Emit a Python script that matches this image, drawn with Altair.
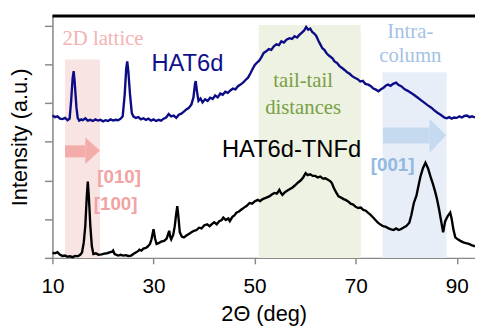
import altair as alt
import pandas as pd

# ---------------- data ----------------
hat_x = [10.0, 10.5, 11.0, 11.5, 12.0, 12.5, 13.0, 13.4, 13.7, 14.0, 14.2, 14.4, 14.75, 15.0, 15.3, 15.7,
         16.0, 16.5, 17.0, 17.5, 18.0, 18.5, 19.0, 19.5, 20.0, 20.5, 21.0, 21.5, 22.0, 22.5, 23.0, 23.5,
         23.9, 24.3, 24.6, 24.8, 25.0, 25.35, 25.7, 26.0, 26.5, 27.0, 27.5, 28.0, 28.5, 29.0, 29.5, 30.0,
         30.5, 31.0, 31.5, 32.0, 32.5, 33.0, 33.5, 34.0, 34.5, 35.0, 35.5, 36.0, 36.5, 37.0, 37.5, 37.9,
         38.2, 38.35, 38.6, 38.9, 39.3, 39.7, 40.2, 40.7, 41.2, 41.7, 42.2, 42.7, 43.2, 43.7, 44.2, 44.7,
         45.2, 45.7, 46.2, 46.7, 47.2, 47.7, 48.2, 48.7, 49.2, 49.7, 50.0, 50.4, 50.9, 51.3, 51.8, 52.3,
         52.8, 53.3, 53.8, 54.3, 54.8, 55.3, 55.8, 56.3, 56.9, 57.4, 57.9, 58.4, 58.8, 59.3, 59.8, 60.2,
         60.6, 61.0, 61.4, 61.8, 62.2, 62.6, 63.0, 63.4, 63.8, 64.2, 64.6, 65.0, 65.4, 65.8, 66.3, 66.8,
         67.3, 67.8, 68.3, 68.8, 69.3, 69.9, 70.4, 70.9, 71.4, 71.9, 72.5, 73.0, 73.5, 74.0, 74.5, 75.0,
         75.5, 76.0, 76.4, 76.9, 77.4, 78.0, 78.5, 79.0, 79.7, 80.3, 80.9, 81.5, 82.3, 82.9, 83.5, 84.2,
         84.9, 85.5, 86.1, 86.8, 87.5, 88.0, 88.5, 89.0, 89.4, 90.0, 90.5, 91.0, 91.5, 92.0, 92.5, 93.0, 93.6]
hat_y = [3.68, 3.64, 3.66, 3.60, 3.59, 3.62, 3.56, 3.60, 4.06, 4.65, 4.83, 4.55, 3.89, 3.62, 3.55, 3.58,
         3.56, 3.61, 3.55, 3.57, 3.54, 3.58, 3.55, 3.57, 3.53, 3.56, 3.54, 3.58, 3.55, 3.57, 3.56, 3.60,
         3.66, 4.23, 4.90, 5.08, 4.85, 4.23, 3.75, 3.66, 3.62, 3.64, 3.58, 3.61, 3.57, 3.60, 3.55, 3.58,
         3.54, 3.57, 3.55, 3.60, 3.63, 3.72, 3.66, 3.68, 3.62, 3.70, 3.73, 3.78, 3.84, 3.88, 3.97, 4.15,
         4.50, 4.57, 4.30, 4.06, 4.12, 4.02, 4.10, 4.06, 4.14, 4.11, 4.20, 4.15, 4.25, 4.22, 4.30, 4.27,
         4.33, 4.38, 4.36, 4.44, 4.48, 4.53, 4.60, 4.66, 4.78, 4.91, 4.98, 5.04, 5.10, 5.18, 5.30, 5.34,
         5.40, 5.38, 5.47, 5.52, 5.50, 5.60, 5.57, 5.64, 5.68, 5.66, 5.73, 5.70, 5.76, 5.82, 5.88, 5.97,
         5.90, 5.93, 5.84, 5.80, 5.74, 5.62, 5.52, 5.42, 5.38, 5.30, 5.24, 5.20, 5.16, 5.08, 5.04, 4.96,
         4.91, 4.86, 4.80, 4.76, 4.70, 4.65, 4.62, 4.56, 4.58, 4.50, 4.48, 4.44, 4.38, 4.35, 4.31, 4.36,
         4.40, 4.46, 4.48, 4.45, 4.50, 4.53, 4.47, 4.44, 4.36, 4.32, 4.27, 4.22, 4.14, 4.08, 4.02, 3.95,
         3.89, 3.82, 3.76, 3.70, 3.63, 3.61, 3.64, 3.60, 3.63, 3.62, 3.66, 3.63, 3.67, 3.68, 3.64, 3.66, 3.63]

tnf_x = [10.0, 10.5, 11.0, 11.5, 12.0, 12.5, 13.0, 13.5, 14.0, 14.5, 15.0, 15.5, 15.85, 16.2, 16.5, 16.8,
         17.0, 17.2, 17.5, 17.8, 18.1, 18.6, 19.1, 19.75, 20.3, 20.8, 21.3, 21.8, 22.0, 22.3, 23.0, 23.5,
         24.0, 24.5, 25.0, 25.6, 26.0, 26.5, 27.0, 27.2, 27.6, 28.0, 28.5, 28.9, 29.3, 29.6, 30.0, 30.3,
         30.6, 31.0, 31.5, 32.1, 32.6, 32.9, 33.1, 33.3, 33.5, 33.9, 34.2, 34.5, 34.7, 34.9, 35.2, 35.6,
         36.0, 36.5, 37.0, 37.5, 38.0, 38.5, 39.0, 39.5, 40.0, 40.6, 41.1, 41.6, 42.0, 42.5, 43.0, 43.5,
         43.8, 44.3, 44.8, 45.1, 45.6, 46.0, 46.4, 46.9, 47.4, 47.9, 48.4, 49.0, 49.5, 50.0, 50.6, 51.1,
         51.6, 52.2, 52.9, 53.4, 53.9, 54.4, 54.9, 55.2, 55.5, 56.0, 56.5, 57.0, 57.5, 58.1, 58.6, 59.1,
         59.6, 60.1, 60.5, 61.0, 61.5, 62.0, 62.5, 63.0, 63.5, 64.0, 64.5, 65.0, 65.3, 65.7, 66.1, 66.6,
         67.1, 67.6, 68.0, 68.5, 69.0, 69.5, 70.0, 70.5, 71.0, 71.5, 72.0, 72.4, 72.9, 73.4, 73.9, 74.4,
         74.9, 75.4, 76.0, 76.5, 77.0, 77.5, 78.0, 78.5, 78.9, 79.4, 80.0, 80.6, 81.0, 81.5, 82.0, 82.4,
         82.8, 83.3, 83.8, 84.3, 84.8, 85.3, 85.7, 86.1, 86.5, 86.9, 87.3, 87.7, 88.2, 88.7, 89.0, 89.3,
         89.7, 90.2, 90.7, 91.3, 91.8, 92.4, 92.9, 93.6]
tnf_y = [0.13, 0.12, 0.15, 0.08, 0.05, 0.06, 0.03, 0.04, 0.02, 0.05, 0.04, 0.08, 0.14, 0.40, 0.82, 1.60,
         1.97, 1.60, 0.82, 0.30, 0.10, 0.12, 0.08, 0.09, 0.11, 0.12, 0.14, 0.16, 0.19, 0.10, 0.06, 0.08,
         0.06, 0.07, 0.05, 0.06, 0.10, 0.14, 0.18, 0.21, 0.19, 0.24, 0.26, 0.30, 0.36, 0.48, 0.74, 0.50,
         0.36, 0.38, 0.42, 0.44, 0.50, 0.62, 0.70, 0.55, 0.48, 0.60, 0.82, 1.15, 1.34, 1.10, 0.66, 0.55,
         0.53, 0.58, 0.62, 0.66, 0.70, 0.72, 0.78, 0.76, 0.84, 0.87, 0.82, 0.88, 0.92, 0.87, 0.95, 0.98,
         1.04, 0.98, 1.02, 0.95, 1.06, 1.10, 1.17, 1.20, 1.25, 1.30, 1.34, 1.42, 1.40, 1.46, 1.50, 1.47,
         1.52, 1.55, 1.59, 1.64, 1.68, 1.66, 1.76, 1.68, 1.63, 1.70, 1.74, 1.78, 1.82, 1.89, 1.95, 2.00,
         2.08, 2.19, 2.14, 2.16, 2.12, 2.12, 2.08, 2.10, 2.05, 2.06, 2.02, 1.98, 1.93, 1.80, 1.70, 1.59,
         1.56, 1.52, 1.50, 1.46, 1.40, 1.38, 1.32, 1.29, 1.30, 1.24, 1.22, 1.17, 1.12, 1.05, 0.98, 0.91,
         0.86, 0.82, 0.80, 0.76, 0.74, 0.72, 0.76, 0.72, 0.74, 0.78, 0.82, 0.91, 1.10, 1.42, 1.60, 1.85,
         2.10, 2.32, 2.46, 2.32, 2.10, 1.90, 1.72, 1.51, 1.25, 0.95, 0.66, 0.95, 1.08, 1.17, 1.00, 0.75,
         0.53, 0.48, 0.44, 0.40, 0.38, 0.36, 0.33, 0.30]

x_ticks = [10, 30, 50, 70, 90]
y_ticks = [0, 1, 2, 3, 4, 5, 6]

# shaded regions
region_x0 = [12.5, 50.8, 75.3]
region_x1 = [19.4, 71.0, 88.0]
region_top = [5.13, 6.02, 4.80]
region_color = ["#f9e4e4", "#edf2e2", "#e8eef8"]

# arrows (body + head)
arrow_x0 = [12.5, 75.4]
arrow_xh = [16.5, 84.6]
arrow_xt = [19.4, 87.9]
arrow_body_lo = [2.60, 2.96]
arrow_body_hi = [2.91, 3.37]
arrow_head_lo = [2.43, 2.71]
arrow_head_hi = [3.11, 3.60]
arrow_tip = [2.78, 3.17]
arrow_color = ["#f4acaa", "#c6daef"]

# annotations
serif_text = ["2D lattice", "tail-tail", "distances", "Intra-", "column"]
serif_x = [20.0, 59.6, 59.6, 80.8, 80.8]
serif_y = [5.67, 4.57, 3.88, 5.85, 5.21]
serif_color = ["#f4b3b3", "#78a044", "#78a044", "#a3c2e6", "#a3c2e6"]

sans_text = ["HAT6d", "HAT6d-TNFd"]
sans_x = [36.7, 57.3]
sans_y = [5.0, 2.78]
sans_color = ["#10108c", "#000000"]

bold_text = ["[010]", "[100]", "[001]"]
bold_x = [23.2, 22.5, 77.3]
bold_y = [2.09, 1.38, 2.40]
bold_color = ["#f2a3a3", "#f2a3a3", "#92b9e1"]

XMIN, XMAX = 10, 93.6
YMIN, YMAX = 0, 6.255

# ---------------- chart ----------------
xs = alt.Scale(domain=[XMIN, XMAX], nice=False, zero=False)
ys = alt.Scale(domain=[YMIN, YMAX], nice=False, zero=False)

xaxis = alt.Axis(values=x_ticks, title="2Θ (deg)", grid=False, domainColor="#8a8a8a", domainWidth=1.5,
                 tickColor="#8a8a8a", tickWidth=1.5, tickSize=6, labelFontSize=21, labelFont="Liberation Sans",
                 labelColor="#000000", labelPadding=12, labelFlush=False, titleFontSize=22,
                 titleFont="Liberation Sans", titleFontWeight="normal", titleColor="#000000", titlePadding=7)
yaxis = alt.Axis(values=y_ticks, title="Intensity (a.u.)", grid=False, labels=False, domainColor="#8a8a8a",
                 domainWidth=1.5, tickColor="#8a8a8a", tickWidth=1.5, tickSize=8, titleFontSize=22,
                 titleFont="Liberation Sans", titleFontWeight="normal", titleColor="#000000", titlePadding=12)

reg_df = pd.DataFrame({"x0": region_x0, "x1": region_x1, "top": region_top, "c": region_color})
regions = alt.Chart(reg_df).mark_rect().encode(
    x=alt.X("x0:Q", scale=xs, axis=xaxis),
    x2="x1:Q",
    y=alt.Y("top:Q", scale=ys, axis=yaxis),
    y2=alt.datum(0),
    color=alt.Color("c:N", scale=None),
)

body_df = pd.DataFrame({"x0": arrow_x0, "x1": arrow_xh, "lo": arrow_body_lo, "hi": arrow_body_hi, "c": arrow_color})
bodies = alt.Chart(body_df).mark_rect().encode(
    x="x0:Q", x2="x1:Q", y="lo:Q", y2="hi:Q", color=alt.Color("c:N", scale=None)
)

head_rows = []
for i in range(len(arrow_x0)):
    head_rows.append({"id": i, "x": arrow_xh[i], "lo": arrow_head_lo[i], "hi": arrow_head_hi[i], "c": arrow_color[i]})
    head_rows.append({"id": i, "x": arrow_xt[i], "lo": arrow_tip[i], "hi": arrow_tip[i], "c": arrow_color[i]})
head_df = pd.DataFrame(head_rows)
heads = alt.Chart(head_df).mark_area().encode(
    x="x:Q", y="lo:Q", y2="hi:Q", detail="id:N", color=alt.Color("c:N", scale=None)
)

hat_df = pd.DataFrame({"x": hat_x, "y": hat_y})
tnf_df = pd.DataFrame({"x": tnf_x, "y": tnf_y})
hat_line = alt.Chart(hat_df).mark_line(color="#0c0c86", strokeWidth=2.4).encode(x="x:Q", y="y:Q")
tnf_line = alt.Chart(tnf_df).mark_line(color="#000000", strokeWidth=2.4).encode(x="x:Q", y="y:Q")

top_border = alt.Chart(pd.DataFrame({"a": [0]})).mark_rule(color="#000000", strokeWidth=3).encode(
    x=alt.datum(XMIN), x2=alt.datum(XMAX), y=alt.datum(YMAX)
)

serif_df = pd.DataFrame({"x": serif_x, "y": serif_y, "t": serif_text, "c": serif_color})
serif_txt = alt.Chart(serif_df).mark_text(font="Liberation Serif", fontSize=21, baseline="middle").encode(
    x="x:Q", y="y:Q", text="t:N", color=alt.Color("c:N", scale=None)
)
sans_df = pd.DataFrame({"x": sans_x, "y": sans_y, "t": sans_text, "c": sans_color})
sans_txt = alt.Chart(sans_df).mark_text(font="Liberation Sans", fontSize=24, baseline="middle").encode(
    x="x:Q", y="y:Q", text="t:N", color=alt.Color("c:N", scale=None)
)
bold_df = pd.DataFrame({"x": bold_x, "y": bold_y, "t": bold_text, "c": bold_color})
bold_txt = alt.Chart(bold_df).mark_text(font="Liberation Sans", fontSize=19, fontWeight="bold", baseline="middle").encode(
    x="x:Q", y="y:Q", text="t:N", color=alt.Color("c:N", scale=None)
)

chart = alt.layer(regions, bodies, heads, hat_line, tnf_line, top_border, serif_txt, sans_txt, bold_txt).properties(
    width=428, height=245,
    autosize=alt.AutoSizeParams(type="none"),
    padding={"left": 45, "top": 6, "right": 0, "bottom": 75},
).configure_view(stroke=None).configure(background="#ffffff")

chart.save("out.html", embed_options={"renderer": "svg", "actions": False})
